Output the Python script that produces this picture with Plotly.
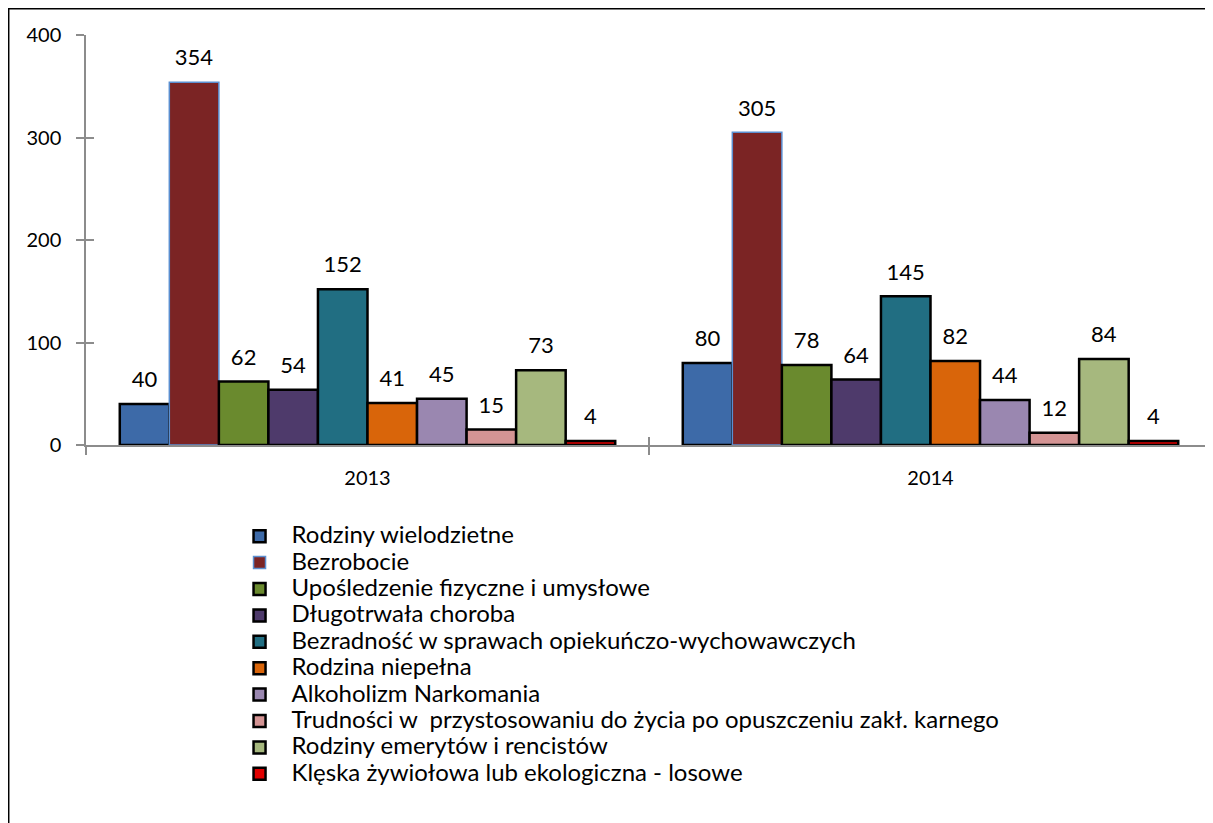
import plotly.graph_objects as go

years = ["2013", "2014"]
series = [
    "Rodziny wielodzietne",
    "Bezrobocie",
    "Upośledzenie fizyczne i umysłowe",
    "Długotrwała choroba",
    "Bezradność w sprawach opiekuńczo-wychowawczych",
    "Rodzina niepełna",
    "Alkoholizm Narkomania",
    "Trudności w  przystosowaniu do życia po opuszczeniu zakł. karnego",
    "Rodziny emerytów i rencistów",
    "Klęska żywiołowa lub ekologiczna - losowe",
]
values = [
    [40, 80],
    [354, 305],
    [62, 78],
    [54, 64],
    [152, 145],
    [41, 82],
    [45, 44],
    [15, 12],
    [73, 84],
    [4, 4],
]
colors = [
    "#3d6aa8", "#7b2424", "#6a8a2e", "#4e3a6b", "#216e82",
    "#d9650a", "#9a87b0", "#d49494", "#a6b87e", "#e00000",
]
line_colors = ["#000000", "#5b8fd0"] + ["#000000"] * 8
line_widths = [2.5, 1.5] + [2.5] * 8

FONT = "Lato"
AXIS_GREY = "#8c8c8c"

fig = go.Figure()
for name, vals, col, lc, lw in zip(series, values, colors, line_colors, line_widths):
    fig.add_bar(
        x=years,
        y=vals,
        # bigger text than the legend font so the rows stay tight like the original
        name=f'<span style="font-size:24px">{name}</span>',
        marker=dict(color=col, line=dict(color=lc, width=lw)),
        # small trailing line lifts the label a little above the bar
        texttemplate='<span style="font-size:22px">%{y}</span><br> ',
        textposition="outside",
        cliponaxis=False,
        textfont=dict(size=9, color="#000000", family=FONT),
    )

# the page body has an 8px margin, so the figure is sized/placed to compensate
fig.update_layout(
    width=1205,
    height=815,
    barmode="group",
    bargap=0.12,
    bargroupgap=0,
    plot_bgcolor="white",
    paper_bgcolor="white",
    margin=dict(l=78, r=1, t=27, b=378),
    font=dict(family=FONT, size=20, color="#000000"),
    showlegend=True,
    legend=dict(
        x=0.1257,
        y=-0.178,
        xanchor="left",
        yanchor="top",
        font=dict(size=18, family=FONT),
        tracegroupgap=0,
        itemwidth=54,
    ),
    xaxis2=dict(overlaying="x", matches="x", showticklabels=False, ticks="inside",
                tickson="boundaries", ticklen=8, tickcolor=AXIS_GREY, tickwidth=1.5,
                showgrid=False, showline=False),
    yaxis2=dict(overlaying="y", range=[0, 400], dtick=100, showticklabels=False,
                ticks="inside", ticklen=8, tickcolor=AXIS_GREY, tickwidth=1.5,
                showgrid=False, showline=False, zeroline=False),
    shapes=[
        dict(type="line", xref="paper", yref="paper",
             x0=-0.0693, x1=1.01, y0=1.066, y1=1.066,
             line=dict(color="black", width=3)),
        dict(type="line", xref="paper", yref="paper",
             x0=-0.0693, x1=-0.0693, y0=1.066, y1=-1.0,
             line=dict(color="black", width=3)),
    ],
)
# invisible trace so the inside tick axes are drawn
fig.add_scatter(x=years, y=[0, 0], xaxis="x2", yaxis="y2", mode="markers",
                marker=dict(opacity=0), showlegend=False, hoverinfo="skip")

fig.update_layout(
    xaxis=dict(showline=True, linecolor=AXIS_GREY, linewidth=1.5,
               showgrid=False, ticks="outside", tickson="boundaries",
               ticklen=8, tickcolor=AXIS_GREY, tickwidth=1.5,
               ticklabelstandoff=14, tickfont=dict(size=20, family=FONT)),
    yaxis=dict(range=[0, 400], dtick=100, showline=True,
               linecolor=AXIS_GREY, linewidth=1.5, showgrid=False,
               zeroline=False, ticks="outside", ticklen=8,
               tickcolor=AXIS_GREY, tickwidth=1.5, ticklabelstandoff=11,
               tickfont=dict(size=20, family=FONT)),
)

fig.write_html("out.html")
